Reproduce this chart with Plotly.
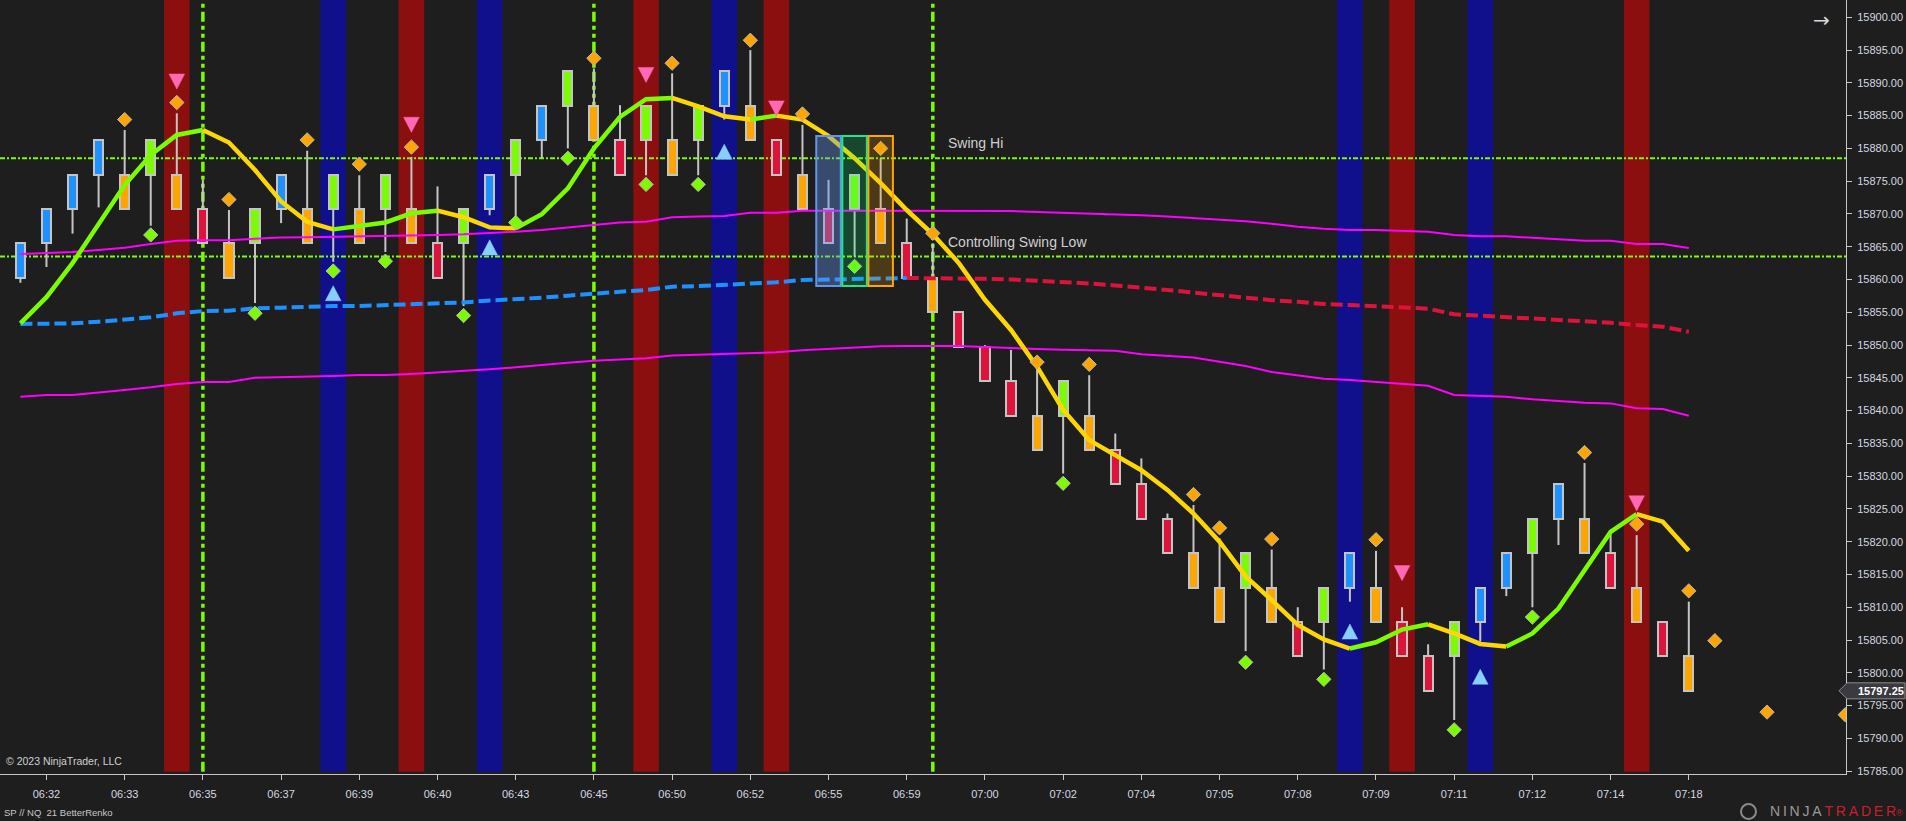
import plotly.graph_objects as go

# ---------------- data ----------------
bar_index = list(range(65))
tick_bars = [1, 4, 7, 10, 13, 16, 19, 22, 25, 28, 31, 34, 37, 40, 43, 46, 49, 52, 55, 58, 61, 64]
tick_labels = ["06:32", "06:33", "06:35", "06:37", "06:39", "06:40", "06:43", "06:45", "06:50", "06:52",
               "06:55", "06:59", "07:00", "07:02", "07:04", "07:05", "07:08", "07:09", "07:11", "07:12",
               "07:14", "07:18"]

bar_kind = ["B", "B", "B", "B", "O", "G", "O", "R", "O", "G",
            "B", "O", "G", "O", "G", "O", "R", "G", "B", "G",
            "B", "G", "O", "R", "G", "O", "G", "B", "O", "R",
            "O", "R", "G", "O", "R", "O", "R", "R", "R", "O",
            "G", "O", "R", "R", "R", "O", "O", "G", "O", "R",
            "G", "B", "O", "R", "R", "G", "B", "B", "G", "B",
            "O", "R", "O", "R", "O"]

open_ = [15860.25, 15865.5, 15870.75, 15876.0, 15876.0, 15876.0, 15876.0, 15870.75, 15865.5, 15865.5,
         15870.75, 15870.75, 15870.75, 15870.75, 15870.75, 15870.75, 15865.5, 15865.5, 15870.75, 15876.0,
         15881.25, 15886.5, 15886.5, 15881.25, 15881.25, 15881.25, 15881.25, 15886.5, 15886.5, 15881.25,
         15876.0, 15870.75, 15870.75, 15870.75, 15865.5, 15860.25, 15855.0, 15849.75, 15844.5, 15839.25,
         15839.25, 15839.25, 15834.0, 15828.75, 15823.5, 15818.25, 15813.0, 15813.0, 15813.0, 15807.75,
         15807.75, 15813.0, 15813.0, 15807.75, 15802.5, 15802.5, 15807.75, 15813.0, 15818.25, 15823.5,
         15823.5, 15818.25, 15813.0, 15807.75, 15802.5]
close_ = [15865.5, 15870.75, 15876.0, 15881.25, 15870.75, 15881.25, 15870.75, 15865.5, 15860.25, 15870.75,
          15876.0, 15865.5, 15876.0, 15865.5, 15876.0, 15865.5, 15860.25, 15870.75, 15876.0, 15881.25,
          15886.5, 15891.75, 15881.25, 15876.0, 15886.5, 15876.0, 15886.5, 15891.75, 15881.25, 15876.0,
          15870.75, 15865.5, 15876.0, 15865.5, 15860.25, 15855.0, 15849.75, 15844.5, 15839.25, 15834.0,
          15844.5, 15834.0, 15828.75, 15823.5, 15818.25, 15813.0, 15807.75, 15818.25, 15807.75, 15802.5,
          15813.0, 15818.25, 15807.75, 15802.5, 15797.25, 15807.75, 15813.0, 15818.25, 15823.5, 15828.75,
          15818.25, 15813.0, 15807.75, 15802.5, 15797.25]
high_ = [15865.5, 15870.75, 15876.0, 15881.25, 15882.8, 15881.25, 15885.35, 15875.2, 15870.6, 15870.75,
         15876.0, 15879.65, 15876.0, 15875.9, 15876.0, 15878.7, 15874.2, 15870.75, 15876.0, 15881.25,
         15886.5, 15891.75, 15892.2, 15886.6, 15886.5, 15891.45, 15886.5, 15891.75, 15895.0, 15881.25,
         15883.6, 15875.2, 15876.0, 15878.5, 15869.3, 15865.5, 15855.0, 15850.0, 15849.25, 15846.2,
         15844.5, 15845.4, 15836.5, 15832.7, 15824.3, 15825.6, 15820.5, 15818.25, 15818.8, 15810.0,
         15813.0, 15818.25, 15818.6, 15810.0, 15804.35, 15807.75, 15813.0, 15818.25, 15823.5, 15828.75,
         15832.0, 15821.3, 15821.0, 15807.75, 15810.85]
low_ = [15859.5, 15861.9, 15867.0, 15871.0, 15870.75, 15868.2, 15870.75, 15865.5, 15860.25, 15856.4,
        15868.6, 15865.5, 15862.7, 15865.5, 15864.2, 15865.5, 15860.25, 15855.95, 15869.8, 15869.6,
        15878.5, 15880.0, 15881.25, 15876.0, 15875.9, 15876.0, 15875.9, 15884.4, 15881.25, 15876.0,
        15870.75, 15865.5, 15863.5, 15865.5, 15860.25, 15855.0, 15849.75, 15844.5, 15839.25, 15834.0,
        15830.4, 15834.0, 15828.75, 15823.5, 15818.25, 15813.0, 15807.75, 15803.3, 15807.75, 15802.5,
        15800.5, 15810.85, 15807.75, 15802.5, 15797.25, 15792.8, 15804.75, 15811.7, 15810.0, 15819.5,
        15818.25, 15813.0, 15807.75, 15802.5, 15797.25]

hma = [15853.3, 15857.3, 15862.5, 15868.6, 15874.4, 15879.0, 15882.05, 15882.8, 15880.9, 15876.7,
       15871.9, 15868.8, 15867.65, 15868.2, 15868.7, 15870.1, 15870.5, 15869.5, 15867.95, 15867.8,
       15869.95, 15873.9, 15880.0, 15884.8, 15887.5, 15887.7, 15886.4, 15884.9, 15884.4, 15885.0,
       15884.4, 15881.9, 15878.5, 15874.7, 15870.6, 15866.9, 15862.5, 15856.9, 15852.3, 15846.7,
       15840.1, 15835.5, 15833.2, 15830.9, 15827.9, 15824.3, 15820.0, 15814.7, 15811.1, 15807.3,
       15805.1, 15803.7, 15804.65, 15806.6, 15807.4, 15806.0, 15804.4, 15804.0, 15806.0, 15809.8,
       15815.7, 15821.5, 15824.2, 15823.05, 15818.6]

band_upper = [15863.9, 15864.0, 15864.2, 15864.5, 15864.85, 15865.4, 15865.9, 15866.0, 15866.0, 15866.2,
              15866.4, 15866.45, 15866.5, 15866.6, 15866.6, 15866.7, 15866.8, 15866.9, 15867.05, 15867.3,
              15867.55, 15867.9, 15868.3, 15868.7, 15868.8, 15869.5, 15869.6, 15869.7, 15870.2, 15870.2,
              15870.5, 15870.45, 15870.5, 15870.5, 15870.5, 15870.5, 15870.5, 15870.5, 15870.45, 15870.3,
              15870.2, 15870.1, 15870.0, 15869.8, 15869.6, 15869.4, 15869.2, 15868.9, 15868.5, 15868.06,
              15867.75, 15867.55, 15867.55, 15867.45, 15867.3, 15866.8, 15866.6, 15866.6, 15866.4, 15866.2,
              15865.9, 15865.9, 15865.4, 15865.4, 15864.8]
band_lower = [15842.12, 15842.38, 15842.38, 15842.73, 15843.14, 15843.55, 15844.06, 15844.36, 15844.36, 15845.02,
              15845.08, 15845.17, 15845.28, 15845.43, 15845.43, 15845.6, 15845.8, 15846.0, 15846.3, 15846.6,
              15847.0, 15847.3, 15847.6, 15847.8, 15848.0, 15848.4, 15848.5, 15848.6, 15848.8, 15848.9,
              15849.2, 15849.4, 15849.6, 15849.8, 15849.86, 15849.86, 15849.86, 15849.7, 15849.5, 15849.4,
              15849.3, 15849.24, 15849.14, 15848.6, 15848.3, 15848.1, 15847.46, 15846.8, 15845.9, 15845.4,
              15844.87, 15844.67, 15844.4, 15844.16, 15843.8, 15842.38, 15842.27, 15842.12, 15841.72, 15841.5,
              15841.2, 15841.1, 15840.35, 15840.25, 15839.2]
mid_line = [15853.21, 15853.21, 15853.31, 15853.56, 15853.82, 15854.23, 15854.84, 15855.19, 15855.24, 15855.6,
            15855.7, 15855.85, 15855.96, 15855.96, 15856.11, 15856.2, 15856.3, 15856.5, 15856.8, 15856.98,
            15857.22, 15857.53, 15857.9, 15858.14, 15858.4, 15858.9, 15859.0, 15859.16, 15859.42, 15859.57,
            15859.92, 15860.03, 15860.12, 15860.18, 15860.23, 15860.23, 15860.18, 15860.1, 15860.0, 15859.85,
            15859.65, 15859.4, 15859.1, 15858.8, 15858.4, 15858.0, 15857.6, 15857.2, 15856.85, 15856.6,
            15856.26, 15856.11, 15855.96, 15855.76, 15855.55, 15854.69, 15854.48, 15854.33, 15854.08, 15853.82,
            15853.56, 15853.41, 15853.06, 15852.8, 15852.04]
mid_red_from = 34

orange_diamond_bars = [4, 6, 8, 11, 13, 15, 22, 25, 28, 30, 33, 35, 39, 41, 45, 46, 48, 52, 60, 62, 64, 65, 67, 70]
orange_diamond_prices = [15884.4, 15887.0, 15872.2, 15881.3, 15877.6, 15880.2, 15893.75, 15893.0, 15896.5, 15885.25,
                         15880.0, 15867.05, 15847.4, 15847.05, 15827.2, 15822.1, 15820.4, 15820.3, 15833.6, 15822.7,
                         15812.5, 15804.9, 15794.0, 15793.6]
green_diamond_bars = [5, 9, 12, 14, 17, 19, 21, 24, 26, 32, 40, 47, 50, 55, 58]
green_diamond_prices = [15866.8, 15854.85, 15861.3, 15862.8, 15854.5, 15868.7, 15878.5, 15874.5, 15874.5, 15862.0,
                        15828.9, 15801.6, 15799.0, 15791.3, 15808.5]
pink_tri_bars = [6, 15, 24, 29, 53, 62]
pink_tri_prices = [15890.2, 15883.6, 15891.2, 15886.1, 15815.2, 15825.85]
blue_tri_bars = [12, 18, 27, 51, 56]
blue_tri_prices = [15857.9, 15864.9, 15879.5, 15806.3, 15799.4]

red_band_bars = [6, 15, 24, 29, 53, 62]
blue_band_bars = [12, 18, 27, 51, 56]
vline_bars = [7, 22, 35]
swing_hi = 15878.5
swing_low = 15863.5
box_bars = [31, 32, 33]
box_low, box_high = 15859.0, 15881.9
last_price = 15797.25

# ---------------- styling ----------------
FONT = "Liberation Sans, Arial, sans-serif"
BG = "#1e1e1e"
KIND_COLOR = {"B": "#1E90FF", "G": "#7CFC00", "O": "#FFA500", "R": "#DC143C"}
LIME = "#7CFC00"
GOLD = "#FFD700"
XMIN, XMAX = -0.7825, 70.03
YMIN, YMAX = 15784.56, 15902.64
PLOT_W, PLOT_H = 1846.0, 774.0

fig = go.Figure()

# wicks
wx, wy = [], []
for i, o, h, l, c in zip(bar_index, open_, high_, low_, close_):
    top, bot = max(o, c), min(o, c)
    if h > top:
        wx += [i, i, None]
        wy += [top, h, None]
    if l < bot:
        wx += [i, i, None]
        wy += [l, bot, None]
fig.add_trace(go.Scatter(x=wx, y=wy, mode="lines", line=dict(color="#c4c4c4", width=2),
                         hoverinfo="skip", showlegend=False))

# bodies
fig.add_trace(go.Bar(
    x=bar_index,
    y=[abs(c - o) for o, c in zip(open_, close_)],
    base=[min(o, c) for o, c in zip(open_, close_)],
    width=0.35,
    marker=dict(color=[KIND_COLOR[k] for k in bar_kind], line=dict(color="#c4c4c4", width=2)),
    hoverinfo="skip", showlegend=False))

# bands (magenta)
for arr in (band_upper, band_lower):
    fig.add_trace(go.Scatter(x=bar_index, y=arr, mode="lines", line=dict(color="#FF00FF", width=2),
                             hoverinfo="skip", showlegend=False))

# middle dashed line (blue then red)
fig.add_trace(go.Scatter(x=bar_index[:mid_red_from + 1], y=mid_line[:mid_red_from + 1], mode="lines",
                         line=dict(color="#1E90FF", width=4, dash="12px,5px"), hoverinfo="skip", showlegend=False))
fig.add_trace(go.Scatter(x=bar_index[mid_red_from:], y=mid_line[mid_red_from:], mode="lines",
                         line=dict(color="#DC143C", width=4, dash="12px,5px"), hoverinfo="skip", showlegend=False))

# HMA coloured by direction
runs = []
start = 0
cur = hma[1] > hma[0]
for i in range(1, len(hma) - 1):
    r = hma[i + 1] > hma[i]
    if r != cur:
        runs.append((start, i, cur))
        start, cur = i, r
runs.append((start, len(hma) - 1, cur))
for s, e, rising in runs:
    fig.add_trace(go.Scatter(x=bar_index[s:e + 1], y=hma[s:e + 1], mode="lines",
                             line=dict(color=LIME if rising else GOLD, width=4.5),
                             hoverinfo="skip", showlegend=False))

# diamonds
fig.add_trace(go.Scatter(x=orange_diamond_bars, y=orange_diamond_prices, mode="markers",
                         marker=dict(symbol="diamond", size=11, color="#FFA500", line=dict(color="#b8b8b8", width=1)),
                         hoverinfo="skip", showlegend=False))
fig.add_trace(go.Scatter(x=green_diamond_bars, y=green_diamond_prices, mode="markers",
                         marker=dict(symbol="diamond", size=11, color="#7CFC00", line=dict(color="#b8b8b8", width=1)),
                         hoverinfo="skip", showlegend=False))

# triangles (drawn as filled polygons around their data position)
TW, TH = 0.3, 1.15
for b, p in zip(pink_tri_bars, pink_tri_prices):
    fig.add_trace(go.Scatter(x=[b - TW, b + TW, b, b - TW], y=[p + TH, p + TH, p - TH, p + TH],
                             mode="lines", fill="toself", fillcolor="#FF69B4",
                             line=dict(color="#FF69B4", width=0.5), hoverinfo="skip", showlegend=False))
for b, p in zip(blue_tri_bars, blue_tri_prices):
    fig.add_trace(go.Scatter(x=[b - TW, b + TW, b, b - TW], y=[p - TH, p - TH, p + TH, p - TH],
                             mode="lines", fill="toself", fillcolor="#87CEFA",
                             line=dict(color="#87CEFA", width=0.5), hoverinfo="skip", showlegend=False))

shapes = []
for b in red_band_bars:
    shapes.append(dict(type="rect", xref="x", yref="paper", x0=b - 0.49, x1=b + 0.49, y0=0.003, y1=1,
                       fillcolor="#8C0F0F", line=dict(width=0), layer="below"))
for b in blue_band_bars:
    shapes.append(dict(type="rect", xref="x", yref="paper", x0=b - 0.49, x1=b + 0.49, y0=0.003, y1=1,
                       fillcolor="#10108C", line=dict(width=0), layer="below"))
for b in vline_bars:
    shapes.append(dict(type="line", xref="x", yref="paper", x0=b, x1=b, y0=0.003, y1=1,
                       line=dict(color=LIME, width=3.5, dash="10px,4px,4px,4px,4px,4px"), layer="below"))
for lvl in (swing_hi, swing_low):
    shapes.append(dict(type="line", xref="paper", yref="y", x0=0, x1=1, y0=lvl, y1=lvl,
                       line=dict(color=LIME, width=2, dash="5px,2px,2px,2px"), layer="below"))

box_styles = [("#6495ED", "rgba(100,149,237,0.38)"),
              ("#1EE68C", "rgba(0,255,127,0.18)"),
              ("#FFA500", "rgba(255,165,0,0.2)")]
for b, (lc, fc) in zip(box_bars, box_styles):
    shapes.append(dict(type="rect", xref="x", yref="y", x0=b - 0.47, x1=b + 0.47, y0=box_low, y1=box_high,
                       fillcolor=fc, line=dict(color=lc, width=2), layer="above"))

# last price marker on the axis
px = lambda v: v / PLOT_W
ph = 1.22
shapes.append(dict(type="path", xref="paper", yref="y", layer="above",
                   path=f"M {px(1839)},{last_price} L {px(1847)},{last_price + ph} L {px(1905)},{last_price + ph} "
                        f"L {px(1905)},{last_price - ph} L {px(1847)},{last_price - ph} Z",
                   fillcolor="#3a3a40", line=dict(color="#8c8c8c", width=1)))
# logo circle
shapes.append(dict(type="circle", xref="paper", yref="paper", x0=px(1741), x1=px(1756),
                   y0=1 - 819 / PLOT_H, y1=1 - 804 / PLOT_H, line=dict(color="#8a8a8a", width=2),
                   fillcolor="rgba(0,0,0,0)"))

annotations = [
    dict(text="Swing Hi", x=35.5, y=swing_hi, xref="x", yref="y", xanchor="left", yanchor="middle",
         yshift=15, showarrow=False, font=dict(family=FONT, size=14, color="#d0d0d0")),
    dict(text="Controlling Swing Low", x=35.5, y=swing_low, xref="x", yref="y", xanchor="left",
         yanchor="middle", yshift=15, showarrow=False, font=dict(family=FONT, size=14, color="#d0d0d0")),
    dict(text="© 2023 NinjaTrader, LLC", x=px(4), y=1 - 761 / PLOT_H, xref="paper", yref="paper",
         xanchor="left", yanchor="middle", showarrow=False, font=dict(family=FONT, size=10.5, color="#d0d0d0")),
    dict(text="SP // NQ  21 BetterRenko", x=px(2), y=1 - 812 / PLOT_H, xref="paper", yref="paper",
         xanchor="left", yanchor="middle", showarrow=False, font=dict(family=FONT, size=9.5, color="#c8c8c8")),
    dict(text="→", x=px(1821), y=1 - 20 / PLOT_H, xref="paper", yref="paper", xanchor="center",
         yanchor="middle", showarrow=False, font=dict(family="DejaVu Sans, sans-serif", size=20, color="#d8d8d8")),
    dict(text=f"{last_price:.2f}", x=px(1856), y=last_price, xref="paper", yref="y", xanchor="left",
         yanchor="middle", showarrow=False, font=dict(family=FONT, size=11, color="#ffffff", weight="bold")),
    dict(text="<span style='color:#9a9a9a'>N\u2009I\u2009N\u2009J\u2009A\u2009</span>"
              "<span style='color:#c8202a'>T\u2009R\u2009A\u2009D\u2009E\u2009R</span>"
              "<span style='color:#c8202a;font-size:9px'>®</span>",
         x=px(1905), y=1 - 811 / PLOT_H, xref="paper", yref="paper", xanchor="right", yanchor="middle",
         showarrow=False, font=dict(family=FONT, size=14, color="#9a9a9a")),
]

fig.update_layout(
    width=1906, height=821,
    margin=dict(l=0, r=60, t=0, b=47, pad=0),
    paper_bgcolor=BG, plot_bgcolor=BG,
    showlegend=False,
    bargap=0,
    shapes=shapes,
    annotations=annotations,
    xaxis=dict(range=[XMIN, XMAX], tickmode="array", tickvals=tick_bars, ticktext=tick_labels,
               showgrid=False, zeroline=False, showline=True, linecolor="#c8c8c8", linewidth=1,
               ticks="outside", ticklen=5, tickcolor="#c8c8c8", ticklabelstandoff=5,
               tickfont=dict(family=FONT, size=11, color="#d4d8e0"), automargin=False, fixedrange=True),
    yaxis=dict(range=[YMIN, YMAX], side="right", tickmode="linear", tick0=15785, dtick=5, tickformat=".2f",
               showgrid=False, zeroline=False, showline=True, linecolor="#c8c8c8", linewidth=1,
               ticks="outside", ticklen=5, tickcolor="#c8c8c8", ticklabelstandoff=3,
               tickfont=dict(family=FONT, size=11, color="#d4d8e0"), automargin=False, fixedrange=True),
)

fig.write_html("out.html", config={"displayModeBar": False},
               post_script="document.body.style.margin='0';document.body.style.overflow='hidden';")
